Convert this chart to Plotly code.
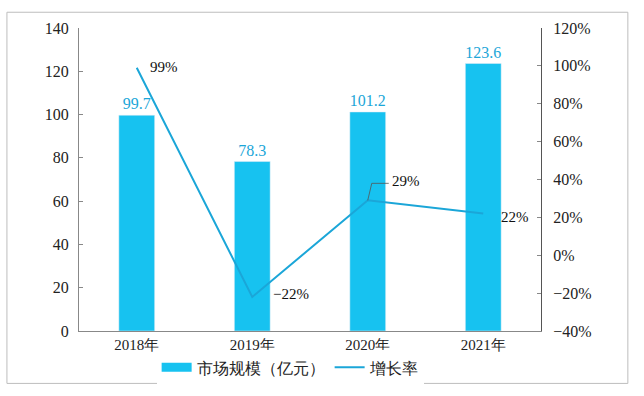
import plotly.graph_objects as go

years = ["2018年", "2019年", "2020年", "2021年"]
market = [99.7, 78.3, 101.2, 123.6]
growth = [99, -22, 29, 22]
growth_labels = ["99%", "−22%", "29%", "22%"]
left_ticks = [0, 20, 40, 60, 80, 100, 120, 140]
right_ticks = [-40, -20, 0, 20, 40, 60, 80, 100, 120]

BAR = "#17C2F0"
LINE = "#1BA6D8"
FONT = "Times New Roman"

fig = go.Figure()
fig.add_trace(go.Bar(
    x=years, y=market, name="市场规模（亿元）", marker_color=BAR, width=0.31,
    text=[f"{v}" for v in market], textposition="outside",
    textfont=dict(color=LINE, size=16, family=FONT), cliponaxis=False,
    showlegend=False,
))
fig.add_trace(go.Scatter(
    x=[None], y=[None], name="市场规模（亿元）", mode="lines",
    line=dict(color=BAR, width=9),
))
fig.add_trace(go.Scatter(
    x=years, y=growth, name="增长率", mode="lines", yaxis="y2",
    line=dict(color=LINE, width=2),
))

offsets = [(27, 1), (39, 3), (0, 0), (32, -3)]
for i, (yr, g, lab) in enumerate(zip(years, growth, growth_labels)):
    if i == 2:
        # elbow leader line anchored at the data point (pixel offsets)
        fig.add_shape(type="path", xref="x", yref="y2",
                      xsizemode="pixel", ysizemode="pixel",
                      xanchor=i, yanchor=g,
                      path="M0,0 L4,17 L21,17",
                      line=dict(color="#555", width=0.8))
        fig.add_annotation(x=yr, y=g, yref="y2", text=lab, showarrow=False,
                           xanchor="left", xshift=22, yshift=19,
                           font=dict(size=15, color="#111", family=FONT))
    else:
        dx, dy = offsets[i]
        fig.add_annotation(x=yr, y=g, yref="y2", text=lab, showarrow=False,
                           xshift=dx, yshift=dy,
                           font=dict(size=15, color="#111", family=FONT))

fig.add_shape(type="rect", xref="paper", yref="paper",
              x0=-0.156, x1=1.188, y0=-0.173, y1=1.052,
              line=dict(color="#BDBDBD", width=1), layer="below")

fig.update_layout(
    width=644, height=396,
    margin=dict(l=79, r=103, t=28, b=62),
    paper_bgcolor="white", plot_bgcolor="white",
    font=dict(family=FONT, size=15, color="#222"),
    bargap=0.69,
    showlegend=True,
    legend=dict(orientation="h", x=0.457, xanchor="center", y=-0.12, yanchor="middle",
                font=dict(size=16, family=FONT, color="#222"),
                traceorder="normal"),
    xaxis=dict(showline=True, linecolor="#888", linewidth=1, ticks="",
               tickfont=dict(size=15, color="#222", family=FONT)),
    yaxis=dict(range=[0, 140], tickmode="array", tickvals=left_ticks,
               ticktext=[str(v) for v in left_ticks],
               showgrid=False, zeroline=False, showline=True, linecolor="#888",
               ticks="inside", ticklen=4, tickcolor="#888", ticklabelstandoff=6,
               tickfont=dict(size=16, color="#222", family=FONT)),
    yaxis2=dict(range=[-40, 120], tickmode="array", tickvals=right_ticks,
                ticktext=[f"{v}%".replace("-", "−") for v in right_ticks],
                overlaying="y", side="right", showgrid=False,
                zeroline=False, showline=True, linecolor="#555",
                ticks="inside", ticklen=4, tickcolor="#888", ticklabelstandoff=8,
                tickfont=dict(size=16, color="#222", family=FONT)),
)

fig.write_html("out.html", config={"displayModeBar": False},
               post_script="document.body.style.margin='0';")
